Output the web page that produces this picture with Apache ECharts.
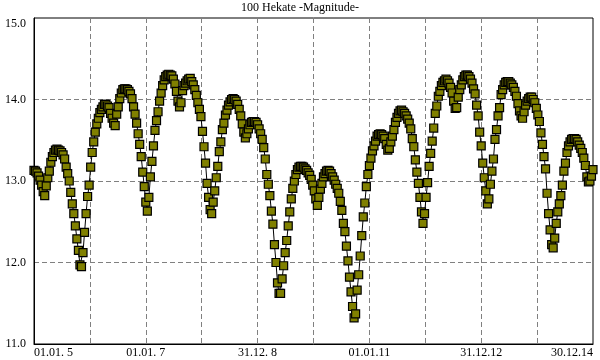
<!DOCTYPE html>
<html>
<head>
<meta charset="utf-8">
<script src="https://cdn.jsdelivr.net/npm/echarts@6/dist/echarts.min.js"></script>
<style>
html,body{margin:0;padding:0;background:#fff;}
#chart{width:600px;height:360px;}
</style>
</head>
<body>
<div id="chart"></div>
<script>
// Title
const chartTitle = "100 Hekate -Magnitude-";
// X axis: days since 01.01.2005, one sample every 10 days
const stepDays = 10;
const xMaxDays = 3650;
const xGridDays = 365;
const xLabelDays = 730;
const xTickLabels = ["01.01. 5", "01.01. 7", "31.12. 8", "01.01.11", "31.12.12", "30.12.14"];
// Y axis
const yMin = 11, yMax = 15, yStep = 1;
// Magnitude values, one per 10-day sample
const magnitudes = [
13.13,13.12,13.10,13.06,13.01,12.95,12.87,12.82,12.94,13.04,
13.12,13.23,13.30,13.35,13.38,13.39,13.38,13.37,13.35,13.32,
13.27,13.17,13.09,13.00,12.86,12.72,12.60,12.45,12.29,12.15,
11.97,11.95,12.12,12.37,12.60,12.81,12.95,13.17,13.35,13.48,
13.60,13.70,13.77,13.84,13.88,13.91,13.94,13.94,13.92,13.90,
13.83,13.77,13.71,13.68,13.82,13.91,14.01,14.08,14.12,14.13,
14.13,14.12,14.10,14.07,14.01,13.91,13.82,13.71,13.58,13.45,
13.30,13.11,12.93,12.74,12.63,12.80,13.05,13.24,13.43,13.62,
13.74,13.85,13.98,14.08,14.17,14.24,14.28,14.30,14.31,14.30,
14.29,14.25,14.19,14.10,13.98,13.91,13.96,14.11,14.17,14.20,
14.23,14.25,14.26,14.22,14.18,14.12,14.05,13.96,13.88,13.79,
13.61,13.42,13.22,12.97,12.80,12.65,12.60,12.74,12.88,13.04,
13.18,13.36,13.48,13.63,13.71,13.81,13.87,13.93,13.97,14.00,
14.01,14.00,13.98,13.94,13.88,13.80,13.70,13.60,13.53,13.58,
13.64,13.69,13.72,13.73,13.73,13.72,13.69,13.64,13.58,13.51,
13.41,13.27,13.08,12.96,12.82,12.63,12.47,12.22,12.00,11.75,
11.62,11.62,11.80,11.96,12.12,12.27,12.45,12.62,12.78,12.91,
13.00,13.08,13.14,13.17,13.18,13.18,13.17,13.15,13.13,13.10,
13.07,13.02,12.95,12.88,12.78,12.70,12.80,12.90,12.97,13.05,
13.09,13.12,13.13,13.12,13.09,13.05,13.01,12.96,12.91,12.85,
12.75,12.64,12.48,12.38,12.20,12.02,11.82,11.64,11.46,11.32,
11.37,11.66,11.85,12.08,12.33,12.56,12.73,12.93,13.08,13.19,
13.28,13.37,13.43,13.49,13.55,13.57,13.58,13.57,13.55,13.52,
13.45,13.38,13.40,13.48,13.55,13.63,13.72,13.78,13.83,13.86,
13.87,13.85,13.83,13.80,13.76,13.71,13.64,13.52,13.42,13.26,
13.11,12.97,12.80,12.62,12.48,12.60,12.80,12.98,13.18,13.34,
13.49,13.65,13.83,13.92,14.04,14.10,14.17,14.21,14.23,14.25,
14.23,14.20,14.15,14.08,13.98,13.89,13.90,14.03,14.12,14.18,
14.24,14.28,14.30,14.30,14.28,14.25,14.20,14.13,14.07,13.93,
13.80,13.60,13.43,13.22,13.04,12.88,12.72,12.78,12.96,13.12,
13.27,13.51,13.63,13.80,13.90,14.06,14.12,14.18,14.21,14.22,
14.22,14.20,14.18,14.15,14.10,14.04,13.95,13.86,13.80,13.77,
13.85,13.93,13.98,14.01,14.03,14.03,14.00,13.96,13.89,13.81,
13.73,13.59,13.45,13.30,13.15,12.85,12.60,12.40,12.22,12.18,
12.30,12.48,12.62,12.72,12.82,12.95,13.12,13.22,13.35,13.43,
13.48,13.51,13.52,13.52,13.51,13.48,13.44,13.40,13.35,13.28,
13.19,13.05,12.99,13.00,13.06,13.14
];

const seriesData = magnitudes.map((m, i) => [i * stepDays, m]);
const FONT = "'Liberation Serif', 'Times New Roman', serif";

const chart = echarts.init(document.getElementById('chart'), null, {renderer: 'canvas'});
chart.setOption({
  animation: false,
  backgroundColor: '#ffffff',
  title: {
    text: chartTitle,
    left: 'center',
    top: 2,
    padding: 0,
    textStyle: {fontFamily: FONT, fontSize: 12, fontWeight: 'normal', color: '#000'}
  },
  grid: {
    left: 34, right: 7, top: 18, bottom: 16,
    show: true, borderColor: '#000', borderWidth: 1, backgroundColor: 'transparent'
  },
  xAxis: {
    type: 'value',
    min: 0, max: xMaxDays, interval: xGridDays,
    axisLine: {show: true, lineStyle: {color: '#000', width: 1}},
    axisTick: {show: false},
    splitLine: {show: true, showMinLine: false, showMaxLine: false,
      lineStyle: {color: '#808080', width: 1, type: [5, 3]}},
    axisLabel: {
      show: true, margin: 3, color: '#000', fontFamily: FONT, fontSize: 12,
      alignMinLabel: 'left', alignMaxLabel: 'right',
      formatter: function (v) {
        if (Math.round(v) % xLabelDays === 0) {
          return xTickLabels[Math.round(v) / xLabelDays] || '';
        }
        return '';
      }
    }
  },
  yAxis: {
    type: 'value',
    min: yMin, max: yMax, interval: yStep,
    axisLine: {show: true, lineStyle: {color: '#000', width: 1}},
    axisTick: {show: false},
    splitLine: {show: true, showMinLine: false, showMaxLine: false,
      lineStyle: {color: '#808080', width: 1, type: [5, 3]}},
    axisLabel: {
      show: true, margin: 8, color: '#000', fontFamily: FONT, fontSize: 12,
      padding: [0, 0, 7, 0],
      verticalAlignMaxLabel: 'top',
      formatter: function (v) { return v.toFixed(1); }
    }
  },
  series: [{
    type: 'line',
    data: seriesData,
    showAllSymbol: true,
    symbol: 'rect',
    symbolSize: 8,
    itemStyle: {color: '#808000', borderColor: '#000', borderWidth: 1.2},
    lineStyle: {color: '#000', width: 1},
    emphasis: {disabled: true},
    silent: true,
    clip: true
  }]
});
</script>
</body>
</html>
